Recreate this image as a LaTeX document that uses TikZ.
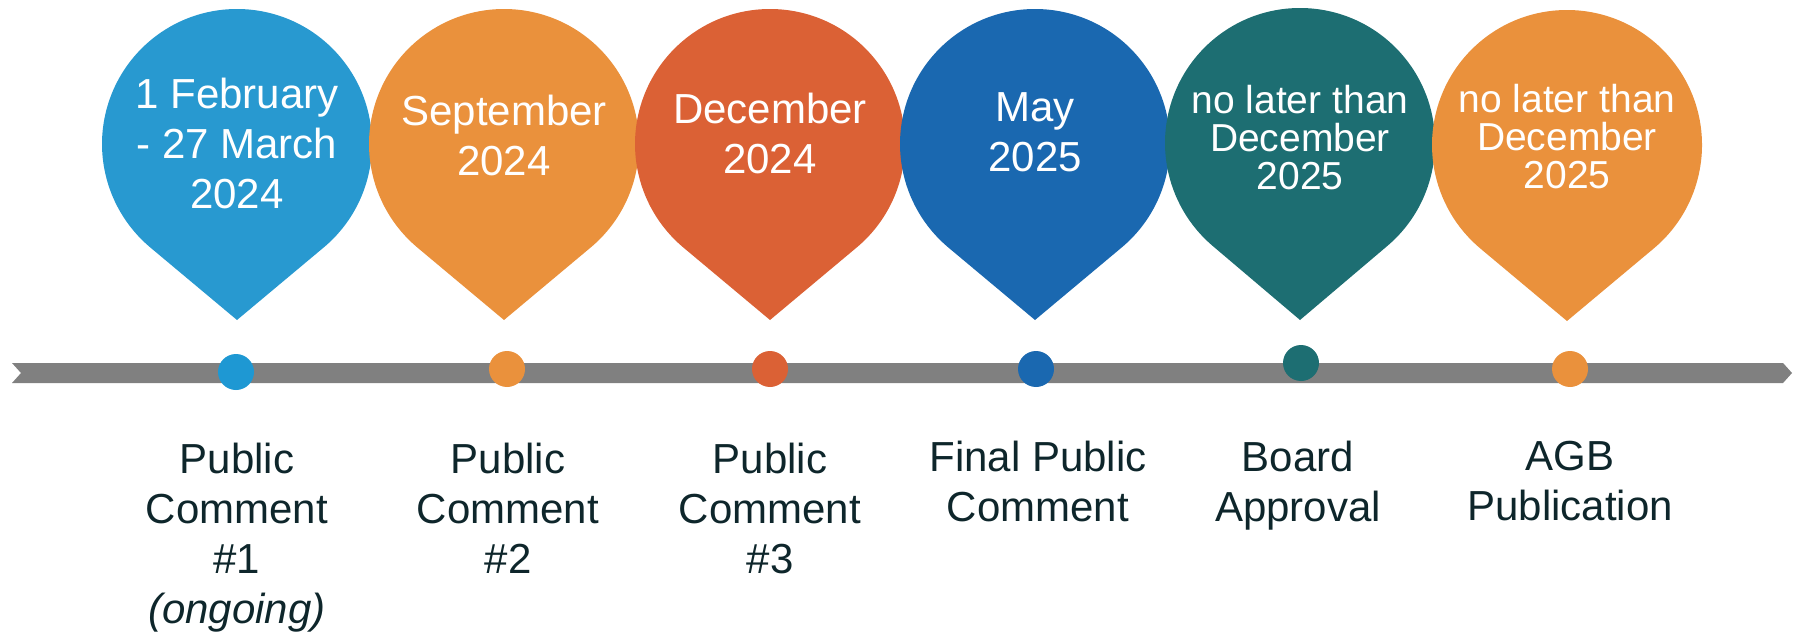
\documentclass[tikz,border=0pt]{standalone}
\usepackage{fontspec}
\setmainfont{Liberation Sans}
\usetikzlibrary{positioning}
\definecolor{pinblue}{HTML}{2899D0}
\definecolor{dotblue}{HTML}{1E98D3}
\definecolor{pinorange}{HTML}{EA913C}
\definecolor{pinred}{HTML}{DB6135}
\definecolor{pinnavy}{HTML}{1A68B0}
\definecolor{pinteal}{HTML}{1D6E72}
\definecolor{bargrey}{HTML}{808080}
\definecolor{labelink}{HTML}{0E262B}
\tikzset{
  datetext/.style={text=white, align=center, anchor=north, inner sep=0pt,
    font=\fontsize{21}{25}\selectfont},
  latetext/.style={datetext, font=\fontsize{19.5}{19}\selectfont},
  milestone/.style={text=labelink, align=center, anchor=north, inner sep=0pt,
    font=\fontsize{21}{25}\selectfont},
  tldot/.style={circle, inner sep=0pt, minimum size=18pt}
}

\begin{document}
\begin{tikzpicture}[x=0.5pt,y=0.5pt]
\useasboundingbox (0,0) rectangle (1797,-636);
% pins
\fill[pinblue] ([shift={(-50.1:135)}]237,-144) arc[start angle=-50.1, end angle=230.1, radius=135] -- (237,-320) -- cycle;
\fill[pinorange] ([shift={(-50.1:135)}]504,-144) arc[start angle=-50.1, end angle=230.1, radius=135] -- (504,-320) -- cycle;
\fill[pinred] ([shift={(-50.1:135)}]770,-144) arc[start angle=-50.1, end angle=230.1, radius=135] -- (770,-320) -- cycle;
\fill[pinnavy] ([shift={(-50.1:135)}]1035,-144) arc[start angle=-50.1, end angle=230.1, radius=135] -- (1035,-320) -- cycle;
\fill[pinteal] ([shift={(-50.1:135)}]1300,-143) arc[start angle=-50.1, end angle=230.1, radius=135] -- (1300,-320) -- cycle;
\fill[pinorange] ([shift={(-50.1:135)}]1567,-145) arc[start angle=-50.1, end angle=230.1, radius=135] -- (1567,-321) -- cycle;
%
\node[datetext] (p1) at (237,-78) {1 February\\- 27 March\\2024};
\node[datetext] (p2) at (504,-95) {September\\2024};
\node[datetext] (p3) at (770,-93) {December\\2024};
\node[datetext] (p4) at (1035,-92) {May\\2025};
\node[latetext] (p5) at (1300,-85) {no later than\\December\\2025};
\node[latetext] (p6) at (1567,-84) {no later than\\December\\2025};
% timeline
\fill[bargrey] (12,-363) -- (1783,-363) -- (1792,-373) -- (1783,-383) -- (12,-383) -- (21,-373) -- cycle;
\node[tldot, fill=dotblue] (d1) at (236,-372) {};
\node[tldot, fill=pinorange] (d2) at (507,-369) {};
\node[tldot, fill=pinred] (d3) at (770,-369) {};
\node[tldot, fill=pinnavy] (d4) at (1036,-369) {};
\node[tldot, fill=pinteal] (d5) at (1301,-363) {};
\node[tldot, fill=pinorange] (d6) at (1570,-369) {};
% milestones
\node[milestone] (m1) at (237,-443) {Public\\Comment\\\#1\\\textit{(ongoing)}};
\node[milestone] (m2) at (508,-443) {Public\\Comment\\\#2};
\node[milestone] (m3) at (770,-443) {Public\\Comment\\\#3};
\node[milestone] (m4) at (1038,-441) {Final Public\\Comment};
\node[milestone] (m5) at (1298,-441) {Board\\Approval};
\node[milestone] (m6) at (1570,-441) {AGB\\Publication};
\end{tikzpicture}
\end{document}
